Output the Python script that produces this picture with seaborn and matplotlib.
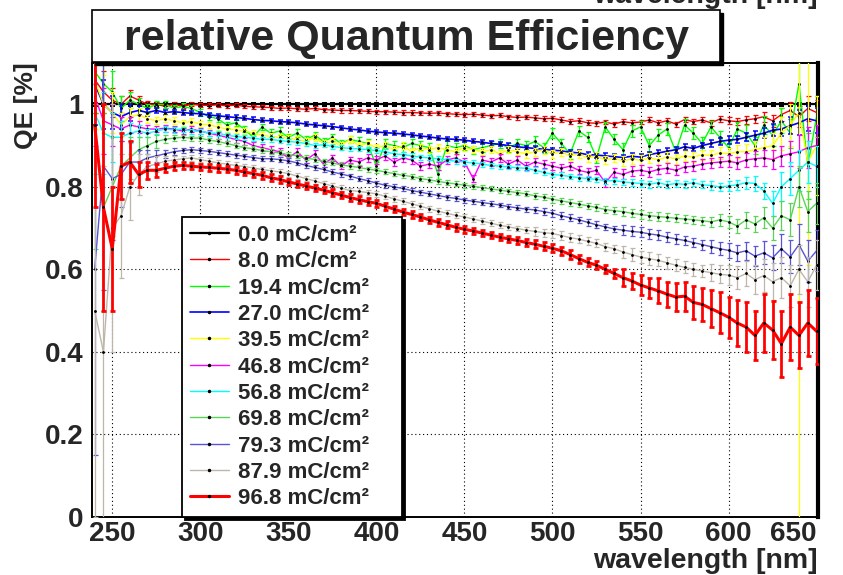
import matplotlib
matplotlib.use("Agg")
import matplotlib.pyplot as plt
import seaborn as sns
import pandas as pd
from matplotlib.lines import Line2D
from matplotlib.patches import Rectangle
from matplotlib.ticker import FixedLocator, MultipleLocator, FixedFormatter

# ---------------- data ----------------
wavelength = list(range(240, 651, 5))

dose_labels = ["0.0 mC/cm\u00b2", "8.0 mC/cm\u00b2", "19.4 mC/cm\u00b2", "27.0 mC/cm\u00b2",
               "39.5 mC/cm\u00b2", "46.8 mC/cm\u00b2", "56.8 mC/cm\u00b2", "69.8 mC/cm\u00b2",
               "79.3 mC/cm\u00b2", "87.9 mC/cm\u00b2", "96.8 mC/cm\u00b2"]

qe_00 = [1.0, 1.0, 1.0, 1.0, 1.0, 1.0, 1.0, 1.0, 1.0, 1.0,
         1.0, 1.0, 1.0, 1.0, 1.0, 1.0, 1.0, 1.0, 1.0, 1.0,
         1.0, 1.0, 1.0, 1.0, 1.0, 1.0, 1.0, 1.0, 1.0, 1.0,
         1.0, 1.0, 1.0, 1.0, 1.0, 1.0, 1.0, 1.0, 1.0, 1.0,
         1.0, 1.0, 1.0, 1.0, 1.0, 1.0, 1.0, 1.0, 1.0, 1.0,
         1.0, 1.0, 1.0, 1.0, 1.0, 1.0, 1.0, 1.0, 1.0, 1.0,
         1.0, 1.0, 1.0, 1.0, 1.0, 1.0, 1.0, 1.0, 1.0, 1.0,
         1.0, 1.0, 1.0, 1.0, 1.0, 1.0, 1.0, 1.0, 1.0, 1.0,
         1.0, 1.0, 1.0]
qe_08 = [1.06, 1.03, 1.01, 1.00, 1.02, 1.01, 1.00, 1.00, 0.995, 1.00,
         0.995, 1.00, 0.998, 0.997, 0.999, 0.996, 0.998, 0.995, 0.994, 0.993,
         0.992, 0.990, 0.991, 0.989, 0.988, 0.990, 0.987, 0.986, 0.985, 0.985,
         0.984, 0.983, 0.982, 0.982, 0.981, 0.980, 0.980, 0.979, 0.978, 0.979,
         0.977, 0.976, 0.975, 0.976, 0.974, 0.972, 0.973, 0.970, 0.968, 0.969,
         0.967, 0.965, 0.966, 0.962, 0.958, 0.960, 0.955, 0.954, 0.957, 0.952,
         0.958, 0.955, 0.957, 0.962, 0.955, 0.960, 0.952, 0.963, 0.958, 0.962,
         0.955, 0.964, 0.960, 0.958, 0.962, 0.965, 0.970, 0.960, 0.975, 0.985,
         0.970, 0.990, 0.980]
qe_19 = [1.08, 1.05, 1.03, 0.99, 1.01, 1.00, 0.99, 1.00, 1.00, 0.99,
         0.995, 0.99, 0.98, 0.97, 0.965, 0.95, 0.955, 0.94, 0.92, 0.945,
         0.93, 0.935, 0.92, 0.93, 0.915, 0.925, 0.91, 0.92, 0.905, 0.915,
         0.91, 0.905, 0.85, 0.905, 0.90, 0.895, 0.905, 0.90, 0.895, 0.83,
         0.90, 0.895, 0.90, 0.89, 0.895, 0.90, 0.905, 0.895, 0.905, 0.90,
         0.91, 0.895, 0.93, 0.905, 0.88, 0.935, 0.92, 0.87, 0.945, 0.915,
         0.89, 0.935, 0.945, 0.90, 0.925, 0.94, 0.885, 0.95, 0.93, 0.905,
         0.945, 0.92, 0.895, 0.94, 0.93, 0.90, 0.95, 0.925, 0.96, 0.93,
         1.05, 0.85, 0.97]
qe_27 = [1.05, 1.00, 0.98, 0.97, 0.98, 0.985, 0.98, 0.985, 0.98, 0.982,
         0.98, 0.978, 0.977, 0.974, 0.972, 0.97, 0.968, 0.966, 0.963, 0.961,
         0.96, 0.958, 0.957, 0.955, 0.952, 0.95, 0.948, 0.946, 0.943, 0.94,
         0.938, 0.935, 0.933, 0.931, 0.93, 0.928, 0.926, 0.923, 0.921, 0.918,
         0.916, 0.915, 0.913, 0.91, 0.908, 0.905, 0.903, 0.90, 0.897, 0.895,
         0.893, 0.891, 0.889, 0.887, 0.884, 0.882, 0.878, 0.877, 0.875, 0.873,
         0.871, 0.874, 0.872, 0.878, 0.882, 0.886, 0.89, 0.897, 0.893, 0.90,
         0.905, 0.91, 0.913, 0.915, 0.92, 0.925, 0.93, 0.937, 0.94, 0.948,
         0.955, 0.965, 0.96]
qe_39 = [1.06, 1.00, 0.98, 0.95, 0.97, 0.975, 0.965, 0.96, 0.965, 0.96,
         0.955, 0.958, 0.952, 0.95, 0.945, 0.94, 0.938, 0.935, 0.93, 0.925,
         0.922, 0.92, 0.918, 0.915, 0.91, 0.92, 0.905, 0.91, 0.90, 0.915,
         0.90, 0.905, 0.895, 0.90, 0.89, 0.90, 0.885, 0.895, 0.89, 0.895,
         0.89, 0.885, 0.895, 0.89, 0.885, 0.89, 0.88, 0.89, 0.885, 0.88,
         0.885, 0.89, 0.88, 0.885, 0.875, 0.88, 0.87, 0.875, 0.865, 0.87,
         0.862, 0.868, 0.864, 0.87, 0.866, 0.872, 0.868, 0.875, 0.872, 0.878,
         0.876, 0.882, 0.88, 0.885, 0.885, 0.89, 0.895, 0.90, 0.93, 0.95,
         0.98, 0.86, 0.90]
qe_46 = [1.02, 0.96, 0.95, 0.94, 0.95, 0.945, 0.94, 0.94, 0.942, 0.94,
         0.935, 0.94, 0.935, 0.93, 0.925, 0.92, 0.915, 0.91, 0.90, 0.895,
         0.89, 0.885, 0.87, 0.885, 0.865, 0.88, 0.855, 0.87, 0.85, 0.865,
         0.86, 0.87, 0.865, 0.875, 0.86, 0.87, 0.865, 0.85, 0.855, 0.85,
         0.865, 0.87, 0.86, 0.82, 0.865, 0.86, 0.87, 0.855, 0.865, 0.85,
         0.86, 0.855, 0.85, 0.845, 0.85, 0.84, 0.835, 0.84, 0.81, 0.835,
         0.83, 0.838, 0.84, 0.836, 0.842, 0.845, 0.84, 0.848, 0.85, 0.855,
         0.858, 0.86, 0.862, 0.858, 0.865, 0.868, 0.87, 0.866, 0.875, 0.88,
         0.885, 0.895, 0.90]
qe_56 = [0.98, 0.93, 0.92, 0.92, 0.93, 0.935, 0.93, 0.935, 0.94, 0.938,
         0.94, 0.935, 0.935, 0.93, 0.93, 0.925, 0.922, 0.92, 0.918, 0.915,
         0.915, 0.912, 0.91, 0.908, 0.905, 0.90, 0.902, 0.898, 0.895, 0.893,
         0.892, 0.89, 0.888, 0.885, 0.88, 0.878, 0.875, 0.872, 0.87, 0.868,
         0.865, 0.862, 0.86, 0.858, 0.855, 0.852, 0.85, 0.848, 0.846, 0.845,
         0.84, 0.835, 0.83, 0.828, 0.825, 0.822, 0.82, 0.818, 0.815, 0.815,
         0.812, 0.81, 0.808, 0.806, 0.81, 0.805, 0.808, 0.806, 0.81, 0.805,
         0.803, 0.80, 0.802, 0.805, 0.81, 0.808, 0.79, 0.76, 0.80, 0.82,
         0.84, 0.86, 0.85]
qe_69 = [0.95, 0.75, 0.80, 0.85, 0.87, 0.89, 0.90, 0.91, 0.915, 0.918,
         0.92, 0.918, 0.918, 0.913, 0.91, 0.905, 0.90, 0.895, 0.892, 0.888,
         0.885, 0.882, 0.878, 0.875, 0.87, 0.866, 0.862, 0.858, 0.853, 0.85,
         0.847, 0.843, 0.84, 0.836, 0.832, 0.828, 0.825, 0.82, 0.817, 0.813,
         0.81, 0.807, 0.804, 0.801, 0.798, 0.795, 0.792, 0.789, 0.786, 0.783,
         0.778, 0.775, 0.77, 0.766, 0.762, 0.758, 0.754, 0.75, 0.745, 0.742,
         0.74, 0.736, 0.733, 0.73, 0.728, 0.726, 0.724, 0.722, 0.72, 0.718,
         0.715, 0.72, 0.715, 0.705, 0.72, 0.71, 0.725, 0.70, 0.73, 0.72,
         0.80, 0.74, 0.76]
qe_79 = [0.60, 0.85, 0.82, 0.83, 0.86, 0.86, 0.87, 0.875, 0.88, 0.885,
         0.888, 0.89, 0.888, 0.886, 0.883, 0.88, 0.877, 0.874, 0.871, 0.868,
         0.868, 0.866, 0.863, 0.858, 0.852, 0.847, 0.842, 0.836, 0.831, 0.826,
         0.82, 0.815, 0.809, 0.804, 0.80, 0.796, 0.791, 0.787, 0.783, 0.779,
         0.775, 0.772, 0.768, 0.765, 0.762, 0.759, 0.756, 0.752, 0.749, 0.746,
         0.744, 0.74, 0.736, 0.73, 0.725, 0.72, 0.714, 0.708, 0.703, 0.698,
         0.695, 0.692, 0.69, 0.686, 0.683, 0.678, 0.674, 0.67, 0.665, 0.66,
         0.655, 0.65, 0.646, 0.64, 0.645, 0.632, 0.64, 0.628, 0.65, 0.63,
         0.66, 0.62, 0.645]
qe_87 = [0.50, 0.40, 0.70, 0.73, 0.80, 0.83, 0.85, 0.855, 0.862, 0.865,
         0.868, 0.87, 0.866, 0.862, 0.858, 0.855, 0.852, 0.849, 0.846, 0.842,
         0.839, 0.836, 0.832, 0.826, 0.82, 0.814, 0.808, 0.802, 0.797, 0.791,
         0.789, 0.786, 0.783, 0.777, 0.771, 0.765, 0.759, 0.753, 0.747, 0.741,
         0.736, 0.731, 0.727, 0.722, 0.717, 0.712, 0.707, 0.703, 0.699, 0.695,
         0.692, 0.689, 0.687, 0.682, 0.677, 0.673, 0.668, 0.663, 0.655, 0.65,
         0.642, 0.636, 0.63, 0.626, 0.622, 0.616, 0.61, 0.605, 0.60, 0.596,
         0.592, 0.588, 0.586, 0.58, 0.59, 0.575, 0.585, 0.57, 0.58, 0.56,
         0.60, 0.57, 0.61]
qe_96 = [0.95, 0.75, 0.65, 0.85, 0.86, 0.83, 0.84, 0.84, 0.845, 0.85,
         0.852, 0.85, 0.848, 0.847, 0.845, 0.843, 0.84, 0.836, 0.832, 0.828,
         0.822, 0.818, 0.812, 0.807, 0.802, 0.797, 0.792, 0.786, 0.78, 0.774,
         0.769, 0.764, 0.76, 0.753, 0.746, 0.739, 0.733, 0.727, 0.72, 0.714,
         0.708, 0.702, 0.697, 0.693, 0.688, 0.683, 0.678, 0.674, 0.67, 0.665,
         0.661, 0.656, 0.651, 0.645, 0.636, 0.626, 0.617, 0.61, 0.60, 0.59,
         0.58, 0.572, 0.562, 0.555, 0.548, 0.54, 0.533, 0.535, 0.52, 0.515,
         0.505, 0.495, 0.484, 0.47, 0.46, 0.44, 0.47, 0.453, 0.42, 0.46,
         0.44, 0.47, 0.45]

# statistical errors
err_00 = [0.003, 0.003, 0.003, 0.003, 0.003, 0.003, 0.003, 0.003, 0.003, 0.003,
          0.003, 0.003, 0.003, 0.003, 0.003, 0.003, 0.003, 0.003, 0.003, 0.003,
          0.003, 0.003, 0.003, 0.003, 0.003, 0.003, 0.003, 0.003, 0.003, 0.003,
          0.003, 0.003, 0.003, 0.003, 0.003, 0.003, 0.003, 0.003, 0.003, 0.003,
          0.003, 0.003, 0.003, 0.003, 0.003, 0.003, 0.003, 0.003, 0.003, 0.003,
          0.003, 0.003, 0.003, 0.003, 0.003, 0.003, 0.003, 0.003, 0.003, 0.003,
          0.003, 0.003, 0.003, 0.003, 0.003, 0.003, 0.003, 0.003, 0.003, 0.003,
          0.003, 0.003, 0.003, 0.003, 0.003, 0.003, 0.003, 0.003, 0.003, 0.003,
          0.003, 0.003, 0.003]
err_08 = [0.08, 0.05, 0.03, 0.02, 0.015, 0.010, 0.008, 0.006, 0.005, 0.005,
          0.005, 0.005, 0.005, 0.005, 0.005, 0.005, 0.005, 0.005, 0.005, 0.005,
          0.005, 0.005, 0.005, 0.005, 0.005, 0.005, 0.005, 0.005, 0.005, 0.005,
          0.005, 0.005, 0.005, 0.005, 0.005, 0.005, 0.005, 0.005, 0.005, 0.005,
          0.005, 0.005, 0.005, 0.005, 0.005, 0.005, 0.005, 0.005, 0.005, 0.005,
          0.006, 0.006, 0.006, 0.006, 0.006, 0.006, 0.006, 0.006, 0.006, 0.006,
          0.006, 0.006, 0.006, 0.006, 0.006, 0.006, 0.006, 0.006, 0.006, 0.006,
          0.007, 0.007, 0.008, 0.008, 0.009, 0.010, 0.012, 0.014, 0.016, 0.020,
          0.025, 0.030, 0.030]
err_19 = [0.10, 0.07, 0.05, 0.03, 0.02, 0.015, 0.010, 0.008, 0.008, 0.008,
          0.008, 0.008, 0.008, 0.008, 0.008, 0.008, 0.008, 0.008, 0.008, 0.008,
          0.009, 0.009, 0.009, 0.009, 0.009, 0.009, 0.009, 0.009, 0.009, 0.009,
          0.010, 0.010, 0.010, 0.010, 0.010, 0.010, 0.010, 0.010, 0.010, 0.010,
          0.010, 0.010, 0.010, 0.010, 0.010, 0.010, 0.010, 0.010, 0.010, 0.010,
          0.012, 0.012, 0.012, 0.012, 0.012, 0.012, 0.012, 0.012, 0.012, 0.012,
          0.015, 0.015, 0.015, 0.015, 0.015, 0.015, 0.015, 0.015, 0.015, 0.015,
          0.015, 0.015, 0.018, 0.018, 0.020, 0.020, 0.022, 0.025, 0.030, 0.035,
          0.060, 0.080, 0.050]
err_27 = [0.10, 0.06, 0.04, 0.03, 0.02, 0.012, 0.008, 0.006, 0.005, 0.005,
          0.005, 0.005, 0.005, 0.005, 0.005, 0.005, 0.005, 0.005, 0.005, 0.005,
          0.005, 0.005, 0.005, 0.005, 0.005, 0.005, 0.005, 0.005, 0.005, 0.005,
          0.005, 0.005, 0.005, 0.005, 0.005, 0.005, 0.005, 0.005, 0.005, 0.005,
          0.005, 0.005, 0.005, 0.005, 0.005, 0.005, 0.005, 0.005, 0.005, 0.005,
          0.006, 0.006, 0.006, 0.006, 0.006, 0.006, 0.006, 0.006, 0.006, 0.006,
          0.007, 0.007, 0.007, 0.007, 0.007, 0.007, 0.007, 0.007, 0.007, 0.007,
          0.008, 0.008, 0.009, 0.009, 0.010, 0.011, 0.012, 0.014, 0.016, 0.020,
          0.030, 0.030, 0.030]
err_39 = [0.12, 0.07, 0.05, 0.03, 0.02, 0.015, 0.010, 0.008, 0.008, 0.008,
          0.008, 0.008, 0.008, 0.008, 0.008, 0.008, 0.008, 0.008, 0.008, 0.008,
          0.008, 0.008, 0.008, 0.008, 0.008, 0.008, 0.008, 0.008, 0.008, 0.008,
          0.008, 0.008, 0.008, 0.008, 0.008, 0.008, 0.008, 0.008, 0.008, 0.008,
          0.009, 0.009, 0.009, 0.009, 0.009, 0.009, 0.009, 0.009, 0.009, 0.009,
          0.010, 0.010, 0.010, 0.010, 0.010, 0.010, 0.010, 0.010, 0.010, 0.010,
          0.012, 0.012, 0.012, 0.012, 0.012, 0.012, 0.012, 0.012, 0.012, 0.012,
          0.012, 0.014, 0.015, 0.016, 0.018, 0.020, 0.025, 0.030, 0.040, 0.050,
          1.000, 0.250, 0.120]
err_46 = [0.12, 0.08, 0.05, 0.03, 0.02, 0.015, 0.010, 0.008, 0.008, 0.008,
          0.008, 0.008, 0.008, 0.008, 0.008, 0.008, 0.008, 0.008, 0.008, 0.008,
          0.008, 0.008, 0.008, 0.008, 0.008, 0.008, 0.008, 0.008, 0.008, 0.008,
          0.009, 0.009, 0.009, 0.009, 0.009, 0.009, 0.009, 0.009, 0.009, 0.009,
          0.009, 0.009, 0.009, 0.009, 0.009, 0.009, 0.009, 0.009, 0.009, 0.009,
          0.010, 0.010, 0.010, 0.010, 0.010, 0.010, 0.010, 0.010, 0.010, 0.010,
          0.012, 0.012, 0.012, 0.012, 0.012, 0.012, 0.012, 0.012, 0.012, 0.012,
          0.012, 0.013, 0.014, 0.015, 0.016, 0.018, 0.020, 0.022, 0.025, 0.030,
          0.040, 0.050, 0.050]
err_56 = [0.15, 0.10, 0.06, 0.04, 0.025, 0.015, 0.010, 0.008, 0.007, 0.007,
          0.006, 0.006, 0.006, 0.006, 0.006, 0.006, 0.006, 0.006, 0.006, 0.006,
          0.006, 0.006, 0.006, 0.006, 0.006, 0.006, 0.006, 0.006, 0.006, 0.006,
          0.006, 0.006, 0.006, 0.006, 0.006, 0.006, 0.006, 0.006, 0.006, 0.006,
          0.006, 0.006, 0.006, 0.006, 0.006, 0.006, 0.006, 0.006, 0.006, 0.006,
          0.007, 0.007, 0.007, 0.007, 0.007, 0.007, 0.007, 0.007, 0.007, 0.007,
          0.008, 0.008, 0.008, 0.008, 0.008, 0.008, 0.008, 0.008, 0.008, 0.008,
          0.010, 0.010, 0.012, 0.012, 0.015, 0.018, 0.020, 0.030, 0.035, 0.040,
          0.050, 0.050, 0.050]
err_69 = [0.30, 0.25, 0.12, 0.08, 0.05, 0.03, 0.02, 0.015, 0.010, 0.008,
          0.006, 0.006, 0.006, 0.006, 0.006, 0.006, 0.006, 0.006, 0.006, 0.006,
          0.006, 0.006, 0.006, 0.006, 0.006, 0.006, 0.006, 0.006, 0.006, 0.006,
          0.006, 0.006, 0.006, 0.006, 0.006, 0.006, 0.006, 0.006, 0.006, 0.006,
          0.006, 0.006, 0.006, 0.006, 0.006, 0.006, 0.006, 0.006, 0.006, 0.006,
          0.008, 0.008, 0.008, 0.008, 0.008, 0.008, 0.008, 0.008, 0.008, 0.008,
          0.010, 0.010, 0.010, 0.010, 0.010, 0.010, 0.010, 0.010, 0.010, 0.010,
          0.012, 0.014, 0.015, 0.018, 0.020, 0.020, 0.025, 0.030, 0.035, 0.040,
          0.050, 0.050, 0.050]
err_79 = [0.45, 0.30, 0.15, 0.08, 0.05, 0.03, 0.02, 0.015, 0.010, 0.008,
          0.006, 0.006, 0.006, 0.006, 0.006, 0.006, 0.006, 0.006, 0.006, 0.006,
          0.006, 0.006, 0.006, 0.006, 0.006, 0.006, 0.006, 0.006, 0.006, 0.006,
          0.006, 0.006, 0.006, 0.006, 0.006, 0.006, 0.006, 0.006, 0.006, 0.006,
          0.006, 0.006, 0.006, 0.006, 0.006, 0.006, 0.006, 0.006, 0.006, 0.006,
          0.008, 0.008, 0.008, 0.008, 0.008, 0.008, 0.008, 0.008, 0.008, 0.008,
          0.012, 0.012, 0.012, 0.012, 0.012, 0.012, 0.012, 0.012, 0.012, 0.012,
          0.015, 0.016, 0.018, 0.020, 0.022, 0.025, 0.028, 0.030, 0.035, 0.040,
          0.050, 0.050, 0.050]
err_87 = [0.50, 0.45, 0.30, 0.15, 0.08, 0.05, 0.03, 0.02, 0.012, 0.010,
          0.007, 0.007, 0.007, 0.007, 0.007, 0.007, 0.007, 0.007, 0.007, 0.007,
          0.007, 0.007, 0.007, 0.007, 0.007, 0.007, 0.007, 0.007, 0.007, 0.007,
          0.007, 0.007, 0.007, 0.007, 0.007, 0.007, 0.007, 0.007, 0.007, 0.007,
          0.007, 0.007, 0.007, 0.007, 0.007, 0.007, 0.007, 0.007, 0.007, 0.007,
          0.010, 0.010, 0.010, 0.010, 0.010, 0.010, 0.010, 0.010, 0.010, 0.010,
          0.015, 0.015, 0.015, 0.015, 0.015, 0.015, 0.015, 0.015, 0.015, 0.015,
          0.020, 0.022, 0.025, 0.028, 0.030, 0.035, 0.040, 0.045, 0.050, 0.050,
          0.060, 0.060, 0.060]
err_96 = [0.20, 0.25, 0.15, 0.08, 0.05, 0.03, 0.02, 0.015, 0.010, 0.010,
          0.008, 0.008, 0.008, 0.008, 0.008, 0.008, 0.008, 0.008, 0.008, 0.008,
          0.008, 0.008, 0.008, 0.008, 0.008, 0.008, 0.008, 0.008, 0.008, 0.008,
          0.008, 0.008, 0.008, 0.008, 0.008, 0.008, 0.008, 0.008, 0.008, 0.008,
          0.008, 0.008, 0.008, 0.008, 0.008, 0.008, 0.008, 0.008, 0.008, 0.008,
          0.010, 0.010, 0.010, 0.010, 0.010, 0.010, 0.010, 0.010, 0.010, 0.010,
          0.020, 0.020, 0.025, 0.025, 0.030, 0.030, 0.035, 0.035, 0.040, 0.040,
          0.045, 0.050, 0.050, 0.055, 0.060, 0.060, 0.070, 0.070, 0.080, 0.080,
          0.080, 0.080, 0.080]

series_qe = [qe_00, qe_08, qe_19, qe_27, qe_39, qe_46, qe_56, qe_69, qe_79, qe_87, qe_96]
series_err = [err_00, err_08, err_19, err_27, err_39, err_46, err_56, err_69, err_79, err_87, err_96]

x_ticks = [250, 300, 350, 400, 450, 500, 550, 600, 650]
y_ticks = [0, 0.2, 0.4, 0.6, 0.8, 1.0]
y_tick_labels = ["0", "0.2", "0.4", "0.6", "0.8", "1"]

# ---------------- style ----------------
colors = ["#000000", "#ff0000", "#00ff00", "#0000ff", "#ffff00", "#ff00ff",
          "#00ffff", "#59d454", "#5954d9", "#bdb6a9", "#ff0000"]
widths = [1.6, 1.0, 1.0, 1.2, 1.0, 1.0, 1.0, 1.0, 1.0, 1.0, 2.2]

rows = []
for lab, ys, es in zip(dose_labels, series_qe, series_err):
    for w, y, e in zip(wavelength, ys, es):
        rows.append({"wavelength": w, "qe": y, "err": e, "dose": lab})
df = pd.DataFrame(rows)

sns.set_style("white")
plt.rcParams["font.family"] = ["Liberation Sans", "DejaVu Sans"]
plt.rcParams["font.weight"] = "bold"

W, H = 843, 575
fig = plt.figure(figsize=(W / 100, H / 100), dpi=100)
ax = fig.add_axes([92 / W, 58 / H, 726 / W, 454 / H])

for i, (lab, col, lw) in enumerate(zip(dose_labels, colors, widths)):
    d = df[df["dose"] == lab]
    ax.errorbar(d["wavelength"], d["qe"], yerr=d["err"], fmt="none", ecolor=col,
                elinewidth=lw * 0.9, capsize=1.8, capthick=lw * 0.9, zorder=3 + i)
    sns.lineplot(data=d, x="wavelength", y="qe", color=col, linewidth=lw, ax=ax,
                 marker=".", markersize=2.5, markerfacecolor="black",
                 markeredgecolor="black", zorder=3 + i, legend=False)

ax.set_xlim(238.5, 650.8)
ax.set_ylim(0, 1.1)
ax.set_xlabel("")
ax.set_ylabel("")

ax.xaxis.set_major_locator(FixedLocator(x_ticks))
ax.xaxis.set_minor_locator(MultipleLocator(10))
ax.yaxis.set_major_locator(FixedLocator(y_ticks))
ax.yaxis.set_major_formatter(FixedFormatter(y_tick_labels))
ax.yaxis.set_minor_locator(MultipleLocator(0.05))

ax.tick_params(axis="y", which="major", direction="in", length=14, width=1.2,
               color="#444444", labelsize=20, pad=6)
ax.tick_params(axis="y", which="minor", direction="in", length=7, width=1.0, color="#444444")
ax.tick_params(axis="x", which="major", direction="in", length=7, width=1.2,
               color="#444444", labelsize=20, pad=3)
ax.tick_params(axis="x", which="minor", direction="in", length=3.5, width=1.0, color="#444444")
for t in ax.get_xticklabels() + ax.get_yticklabels():
    t.set_fontweight("bold")
ax.get_xticklabels()[-1].set_horizontalalignment("right")

ax.grid(True, which="major", color="black", linestyle=(0, (1, 2.5)), linewidth=0.8)
for side in ["left", "bottom", "top"]:
    ax.spines[side].set_color("black")
    ax.spines[side].set_linewidth(1.4)
ax.spines["right"].set_color("black")
ax.spines["right"].set_linewidth(3)

handles = [Line2D([], [], color=c, lw=lw, marker=".", markersize=3,
                  markerfacecolor="black", markeredgecolor="black")
           for c, lw in zip(colors, widths)]
leg = ax.legend(handles, dose_labels, loc="lower left",
                bbox_to_anchor=(90 / 726, 0.0, 220 / 726, 0.66), mode="expand",
                borderaxespad=0, frameon=True, fancybox=False, edgecolor="black",
                framealpha=1, numpoints=1, handlelength=1.75, handletextpad=0.4,
                labelspacing=0.24, borderpad=0.35,
                prop={"family": ["Liberation Sans"], "weight": "bold", "size": 16},
                shadow={"facecolor": "black", "edgecolor": "black", "alpha": 1})
leg.get_frame().set_linewidth(1.3)
leg.set_zorder(30)

# title box with shadow
fig.add_artist(Rectangle((95 / W, 1 - 65 / H), 628 / W, 52 / H, transform=fig.transFigure,
                         facecolor="black", edgecolor="black", zorder=5))
fig.add_artist(Rectangle((92 / W, 1 - 62 / H), 628 / W, 52 / H, transform=fig.transFigure,
                         facecolor="white", edgecolor="black", linewidth=1.2, zorder=6))
fig.text(406 / W, 1 - 50 / H, "relative Quantum Efficiency", ha="center", va="baseline",
         fontsize=31, fontweight="bold", zorder=7)

fig.text(818 / W, 1 - 568 / H, "wavelength [nm]", ha="right", va="baseline",
         fontsize=20.5, fontweight="bold")
fig.text(818 / W, 1 - 3 / H, "wavelength [nm]", ha="right", va="baseline",
         fontsize=20.5, fontweight="bold")
fig.text(26 / W, 1 - 106 / H, "QE [%]", rotation=90, ha="center", va="center",
         fontsize=19, fontweight="bold")

fig.savefig("out.png", dpi=100)
